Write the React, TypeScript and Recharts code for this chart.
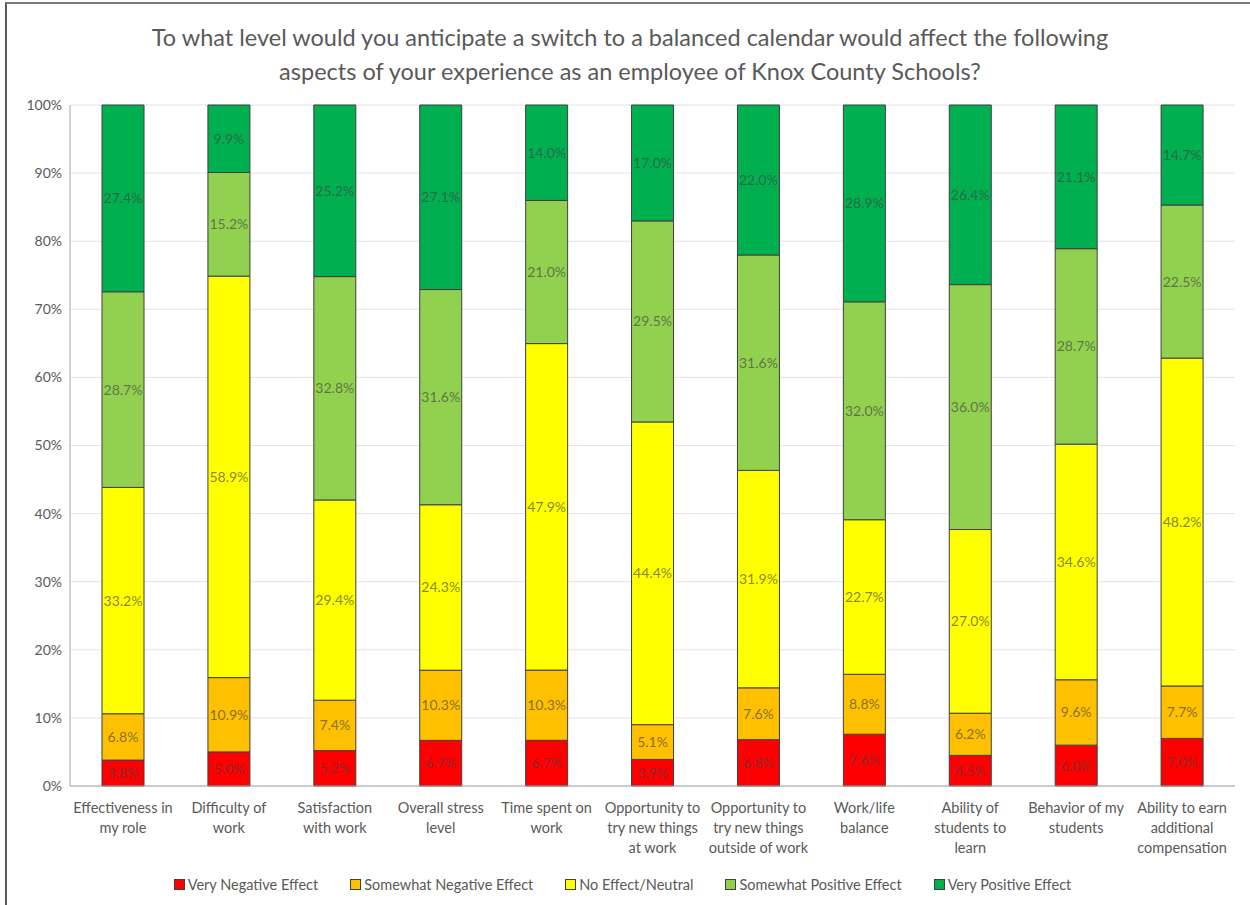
import React from "react";
import { Bar, BarChart, CartesianGrid, LabelList, XAxis, YAxis } from "recharts";

const FONT = "Lato, 'Liberation Sans', sans-serif";

const categories = [
  "Effectiveness in\nmy role",
  "Difficulty of\nwork",
  "Satisfaction\nwith work",
  "Overall stress\nlevel",
  "Time spent on\nwork",
  "Opportunity to\ntry new things\nat work",
  "Opportunity to\ntry new things\noutside of work",
  "Work/life\nbalance",
  "Ability of\nstudents to\nlearn",
  "Behavior of my\nstudents",
  "Ability to earn\nadditional\ncompensation",
];

const veryNegative = [3.8, 5.0, 5.2, 6.7, 6.7, 3.9, 6.8, 7.6, 4.5, 6.0, 7.0];
const somewhatNegative = [6.8, 10.9, 7.4, 10.3, 10.3, 5.1, 7.6, 8.8, 6.2, 9.6, 7.7];
const neutral = [33.2, 58.9, 29.4, 24.3, 47.9, 44.4, 31.9, 22.7, 27.0, 34.6, 48.2];
const somewhatPositive = [28.7, 15.2, 32.8, 31.6, 21.0, 29.5, 31.6, 32.0, 36.0, 28.7, 22.5];
const veryPositive = [27.4, 9.9, 25.2, 27.1, 14.0, 17.0, 22.0, 28.9, 26.4, 21.1, 14.7];

const yTicks = [0, 0.1, 0.2, 0.3, 0.4, 0.5, 0.6, 0.7, 0.8, 0.9, 1];

const series = [
  { key: "vn", name: "Very Negative Effect", color: "#FF0000", values: veryNegative },
  { key: "sn", name: "Somewhat Negative Effect", color: "#FFC000", values: somewhatNegative },
  { key: "ne", name: "No Effect/Neutral", color: "#FFFF00", values: neutral },
  { key: "sp", name: "Somewhat Positive Effect", color: "#92D050", values: somewhatPositive },
  { key: "vp", name: "Very Positive Effect", color: "#00B050", values: veryPositive },
];

const rows = categories.map((name, i) => {
  const row: Record<string, string | number> = { name };
  series.forEach((s) => {
    row[s.key] = s.values[i];
  });
  return row;
});

function CategoryTick({ x, y, payload }: any) {
  const lines = String(payload.value).split("\n");
  return (
    <text x={x} y={y} textAnchor="middle" fill="#595959" fontSize={14.5} fontFamily={FONT}>
      {lines.map((l, i) => (
        <tspan key={i} x={x} dy={i === 0 ? 27 : 20}>
          {l}
        </tspan>
      ))}
    </text>
  );
}

export default function App() {
  return (
    <div
      style={{
        position: "absolute",
        left: 0,
        top: 0,
        width: 1250,
        height: 905,
        overflow: "hidden",
        background: "#fff",
        fontFamily: FONT,
      }}
    >
      <div
        style={{
          position: "absolute",
          left: 5,
          top: 2,
          width: 1400,
          height: 1100,
          borderLeft: "2px solid #595959",
          borderTop: "2px solid #7a7a7a",
        }}
      />
      <div
        style={{
          position: "absolute",
          left: 0,
          top: 20,
          width: 1260,
          textAlign: "center",
          fontSize: 23.5,
          lineHeight: "34px",
          color: "#595959",
        }}
      >
        To what level would you anticipate a switch to a balanced calendar would affect the following
        <br />
        aspects of your experience as an employee of Knox County Schools?
      </div>
      <div style={{ position: "absolute", left: 0, top: 0 }}>
        <BarChart
          width={1250}
          height={905}
          data={rows}
          stackOffset="expand"
          barSize={42}
          margin={{ top: 105, right: 15, bottom: 39, left: 0 }}
        >
          <CartesianGrid stroke="#e4e4e4" vertical={false} />
          <XAxis
            dataKey="name"
            interval={0}
            height={80}
            tickLine={false}
            tickSize={0}
            tickMargin={0}
            axisLine={{ stroke: "#a6a6a6" }}
            tick={<CategoryTick />}
          />
          <XAxis xAxisId="top" dataKey="name" orientation="top" height={0} tick={false} tickLine={false} axisLine={{ stroke: "#a6a6a6" }} />
          <YAxis
            domain={[0, 1]}
            ticks={yTicks}
            width={70}
            tickLine={false}
            axisLine={{ stroke: "#a6a6a6" }}
            tickFormatter={(v) => `${Math.round(Number(v) * 100)}%`}
            tick={{ fill: "#595959", fontSize: 14, fontFamily: FONT }}
          />
          <YAxis yAxisId="right" orientation="right" width={0} tick={false} tickLine={false} axisLine={{ stroke: "#a6a6a6" }} />
          {series.map((s) => (
            <Bar
              key={s.key}
              dataKey={s.key}
              name={s.name}
              stackId="a"
              fill={s.color}
              stroke="#3f3f3f"
              strokeWidth={1}
              isAnimationActive={false}
            >
              <LabelList
                dataKey={s.key}
                position="center"
                fill="#404040"
                fillOpacity={0.65}
                fontSize={14}
                fontFamily={FONT}
                formatter={(v: any) => `${Number(v).toFixed(1)}%`}
              />
            </Bar>
          ))}
        </BarChart>
      </div>
      <div
        style={{
          position: "absolute",
          left: 0,
          top: 876,
          width: 1245,
          display: "flex",
          justifyContent: "center",
          gap: 32,
          fontSize: 14.5,
          color: "#595959",
        }}
      >
        {series.map((s) => (
          <span key={s.key} style={{ display: "flex", alignItems: "center" }}>
            <span
              style={{
                display: "inline-block",
                width: 9,
                height: 9,
                background: s.color,
                border: "1px solid #404040",
                marginRight: 3,
              }}
            />
            {s.name}
          </span>
        ))}
      </div>
    </div>
  );
}
